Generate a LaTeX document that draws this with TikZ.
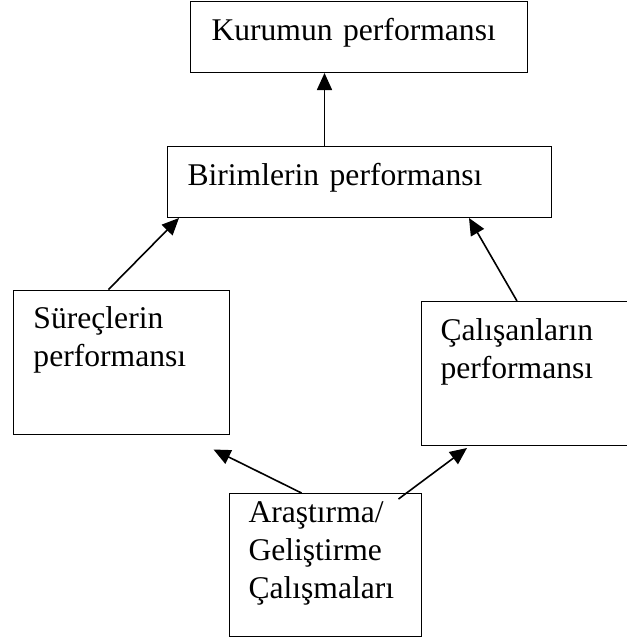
\documentclass[tikz,border=0pt]{standalone}
\usepackage{fontspec}
\setmainfont{Liberation Serif}
\usetikzlibrary{arrows.meta}
\newcommand{\diagfont}{\fontsize{31.6pt}{38pt}\selectfont}
\tikzset{
  perfbox/.style={draw, line width=1pt, anchor=north west, inner ysep=0pt, align=left, font=\diagfont},
  feed/.style={line width=1.6pt, -{Triangle[length=17pt,width=15pt]}}
}
\begin{document}
\begin{tikzpicture}[x=1pt,y=-1pt]
\useasboundingbox (0,0) rectangle (627,641);
\node[perfbox, inner xsep=21.5pt, text width=294.5pt, text height=39.5pt, text depth=32pt] (kurum) at (189.5,0.5) {Kurumun performansı};
\node[perfbox, inner xsep=20pt, text width=344pt, text height=39pt, text depth=32pt] (birim) at (167,146) {Birimlerin performansı};
\node[perfbox, inner xsep=20.5pt, text width=175pt, text height=38.5pt, text depth=105.5pt] (surec) at (12.5,289.5) {Süreçlerin\\performansı};
\node[perfbox, inner xsep=19pt, text width=177pt, text height=39pt, text depth=105pt] (calisan) at (421,301) {Çalışanların\\performansı};
\node[perfbox, inner xsep=19.5pt, text width=153pt, text height=29pt, text depth=114pt] (arge) at (228.5,493) {Araştırma/\\Geliştirme\\Çalışmaları};
% upward links
\draw[feed] ([xshift=-35pt]birim.north) -- ([xshift=-35pt]birim.north |- kurum.south);
\draw[feed] ([xshift=96pt]surec.north west) -- ([xshift=12pt]birim.south west);
\draw[feed] ([xshift=96pt]calisan.north west) -- ([xshift=-83pt]birim.south east);
\draw[feed] ([xshift=73pt]arge.north west) -- ([xshift=-16pt,yshift=-15pt]surec.south east);
\draw[feed] ([xshift=-23pt,yshift=-6pt]arge.north east) -- ([xshift=46pt,yshift=-2pt]calisan.south west);
\end{tikzpicture}
\end{document}
